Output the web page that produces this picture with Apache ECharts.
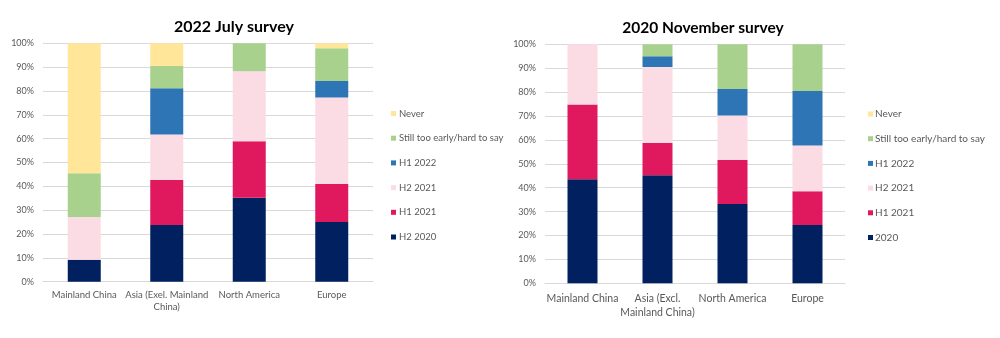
<!DOCTYPE html>
<html>
<head>
<meta charset="utf-8">
<script src="https://cdn.jsdelivr.net/npm/echarts@6/dist/echarts.min.js"></script>
<style>
  html, body { margin: 0; padding: 0; background: #fff; }
  #chart { width: 1000px; height: 338px; }
</style>
</head>
<body>
<div id="chart"></div>
<script>
// Categories for each survey
var julyCategories = ['Mainland China', 'Asia (Exel. Mainland\nChina)', 'North America', 'Europe'];
var novCategories = ['Mainland China', 'Asia (Excl.\nMainland China)', 'North America', 'Europe'];

// 2022 July survey (% of respondents, bottom to top)
var julyH22020 = [9.2, 23.8, 35.2, 25.0];
var julyH12021 = [0, 18.9, 23.7, 16.0];
var julyH22021 = [17.9, 19.0, 29.4, 36.3];
var julyH12022 = [0, 19.4, 0, 6.9];
var julyTooEarly = [18.4, 9.4, 11.7, 13.7];
var julyNever = [54.5, 9.5, 0, 2.1];

// 2020 November survey (% of respondents, bottom to top)
var nov2020 = [43.5, 45.2, 33.2, 24.4];
var novH12021 = [31.3, 13.5, 18.4, 14.1];
var novH22021 = [25.2, 31.8, 18.6, 19.2];
var novH12022 = [0, 4.5, 11.1, 22.8];
var novTooEarly = [0, 5.0, 18.7, 19.5];
var novNever = [0, 0, 0, 0];

var yTicks = [0, 100, 10];

var COLORS = {
  never: '#FFE699',
  early: '#A9D18E',
  h12022: '#2E75B6',
  h22021: '#FBDCE4',
  h12021: '#E0185E',
  base: '#002060'
};

var FONT = 'Lato, "Open Sans", sans-serif';

function yAxis(idx) {
  return {
    type: 'value', gridIndex: idx,
    min: yTicks[0], max: yTicks[1], interval: yTicks[2],
    axisLine: { show: false }, axisTick: { show: false },
    splitLine: { lineStyle: { color: '#d9d9d9', width: 1 } },
    axisLabel: { formatter: '{value}%', color: '#595959', fontSize: 9, fontFamily: FONT, margin: 9 }
  };
}

function xAxis(idx, cats, fs, lh, margin) {
  return {
    type: 'category', gridIndex: idx, data: cats,
    axisLine: { lineStyle: { color: '#d9d9d9' } }, axisTick: { show: false },
    axisLabel: { interval: 0, color: '#595959', fontSize: fs, lineHeight: lh, fontFamily: FONT, margin: margin }
  };
}

function bar(name, data, color, idx, stack, width) {
  return {
    name: name, type: 'bar', stack: stack, data: data,
    xAxisIndex: idx, yAxisIndex: idx, barWidth: width,
    itemStyle: { color: color }, emphasis: { disabled: true }
  };
}

var chart = echarts.init(document.getElementById('chart'), null, { renderer: 'canvas' });
chart.setOption({
  animation: false,
  title: [
    { text: '2022 July survey', left: 229, top: 14, textAlign: 'center',
      textStyle: { fontSize: 16, fontWeight: 'bold', color: '#000', fontFamily: FONT } },
    { text: '2020 November survey', left: 698, top: 15, textAlign: 'center',
      textStyle: { fontSize: 15.5, fontWeight: 'bold', color: '#000', fontFamily: FONT } }
  ],
  legend: [
    { orient: 'vertical', left: 386, top: 102.5, itemWidth: 5, itemHeight: 5, itemGap: 12.7, icon: 'rect',
      data: ['Never', 'Still too early/hard to say', 'H1 2022', 'H2 2021', 'H1 2021', 'H2 2020'],
      textStyle: { fontSize: 9.5, color: '#595959', fontFamily: FONT, lineHeight: 12, padding: [0, 0, 0, -2] },
      selectedMode: false },
    { orient: 'vertical', left: 863, top: 103, itemWidth: 5, itemHeight: 5, itemGap: 12.7, icon: 'rect',
      data: ['Never', 'Still too early/hard to say', 'H1 2022', 'H2 2021', 'H1 2021', '2020'],
      textStyle: { fontSize: 10, color: '#595959', fontFamily: FONT, lineHeight: 12, padding: [0, 0, 0, -3] },
      selectedMode: false }
  ],
  grid: [
    { left: 43, right: 627, top: 43.3, bottom: 56.3 },
    { left: 545, right: 155, top: 44.3, bottom: 54.7 }
  ],
  xAxis: [
    xAxis(0, julyCategories, 9.5, 12, 7),
    xAxis(1, novCategories, 10.5, 14, 8.5)
  ],
  yAxis: [yAxis(0), yAxis(1)],
  series: [
    bar('H2 2020', julyH22020, COLORS.base, 0, 'july', 33),
    bar('H1 2021', julyH12021, COLORS.h12021, 0, 'july', 33),
    bar('H2 2021', julyH22021, COLORS.h22021, 0, 'july', 33),
    bar('H1 2022', julyH12022, COLORS.h12022, 0, 'july', 33),
    bar('Still too early/hard to say', julyTooEarly, COLORS.early, 0, 'july', 33),
    bar('Never', julyNever, COLORS.never, 0, 'july', 33),
    bar('2020', nov2020, COLORS.base, 1, 'nov', 30),
    bar('H1 2021', novH12021, COLORS.h12021, 1, 'nov', 30),
    bar('H2 2021', novH22021, COLORS.h22021, 1, 'nov', 30),
    bar('H1 2022', novH12022, COLORS.h12022, 1, 'nov', 30),
    bar('Still too early/hard to say', novTooEarly, COLORS.early, 1, 'nov', 30),
    bar('Never', novNever, COLORS.never, 1, 'nov', 30)
  ]
});
</script>
</body>
</html>
